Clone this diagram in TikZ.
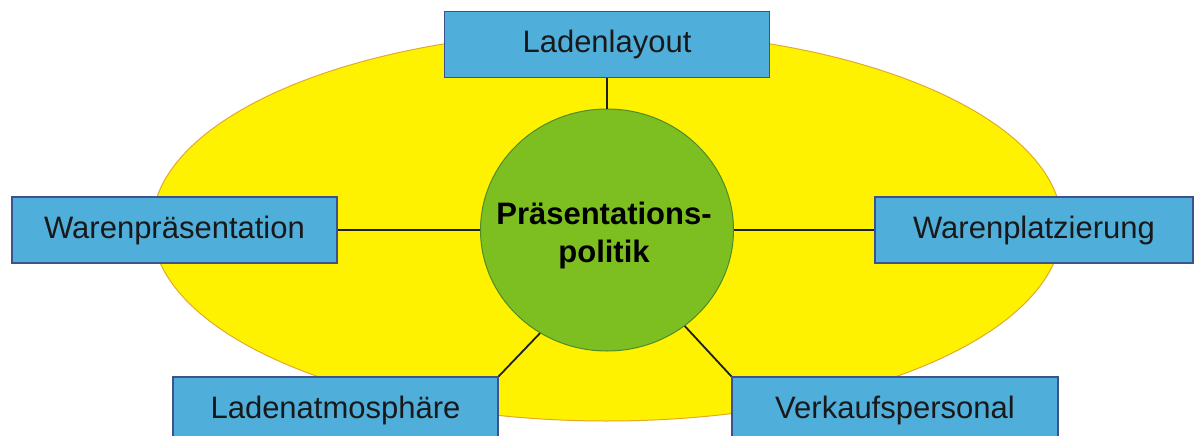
\documentclass[tikz,border=0pt]{standalone}
\usepackage{fontspec}
\setmainfont{Liberation Sans}
\usetikzlibrary{shapes.geometric}
\definecolor{ovalyellow}{RGB}{255,242,0}
\definecolor{ovalborder}{RGB}{226,170,40}
\definecolor{hubgreen}{RGB}{125,191,32}
\definecolor{hubborder}{RGB}{78,140,40}
\definecolor{boxblue}{RGB}{80,174,219}
\definecolor{boxborder}{RGB}{60,82,140}
\definecolor{linkcol}{RGB}{30,30,30}
\tikzset{
  topic/.style={rectangle, draw=boxborder, line width=1.3pt, fill=boxblue,
    inner sep=0pt, minimum height=66pt,
    font=\fontsize{31}{36}\selectfont, text=black!90},
  hub/.style={ellipse, draw=hubborder, line width=1pt, fill=hubgreen,
    inner sep=0pt, minimum width=253pt, minimum height=242pt},
  hubtext/.style={align=center, inner sep=0pt,
    font=\fontsize{31}{38}\selectfont\bfseries},
  oval/.style={ellipse, draw=ovalborder, line width=1pt, fill=ovalyellow,
    inner sep=0pt, minimum width=910pt, minimum height=390pt},
  link/.style={draw=linkcol, line width=1.8pt}
}
\begin{document}
\begin{tikzpicture}[x=1pt,y=-1pt]
\useasboundingbox (0,0) rectangle (1194,436);
\clip (0,0) rectangle (1194,436);
\fill[white] (0,0) rectangle (1194,436);
\node[oval] (oval) at (607,226) {};
\node[hub] (hub) at (607,230) {};
\node[hubtext] (hubtxt) at (604,235) {Präsentations-\\politik};
\node[topic, minimum width=325pt] (top) at (607,44.5) {Ladenlayout};
\node[topic, minimum width=325pt] (left) at (174.5,230) {Warenpräsentation};
\node[topic, minimum width=318pt] (right) at (1034,230) {Warenplatzierung};
\node[topic, minimum width=325pt] (bl) at (335.5,410) {Ladenatmosphäre};
\node[topic, minimum width=326pt] (br) at (895,410) {Verkaufspersonal};
\draw[link] (top.south) -- (hub.north);
\draw[link] (left.east) -- (hub.west);
\draw[link] (right.west) -- (hub.east);
\draw[link] (bl.north east) -- (hub.237);
\draw[link] (br.north west) -- (hub.309);
\end{tikzpicture}
\end{document}
